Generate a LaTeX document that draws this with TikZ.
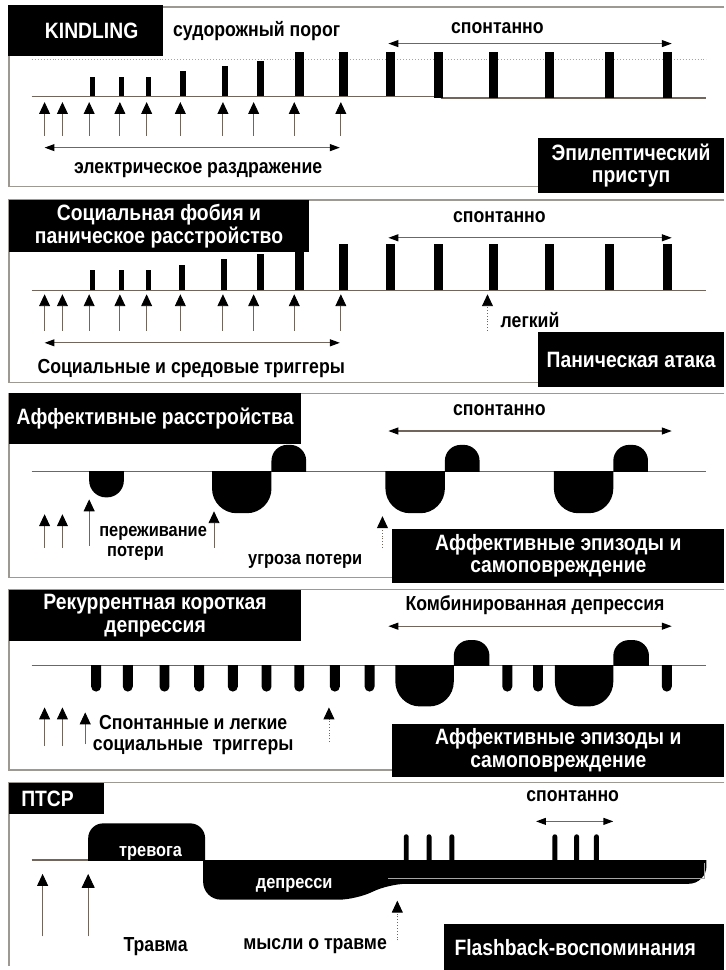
\documentclass[tikz,border=0pt]{standalone}
\usepackage{fontspec}
\setmainfont{Liberation Sans}[FakeStretch=0.87]
\usetikzlibrary{arrows.meta}

\definecolor{framegray}{RGB}{158,152,146}
\definecolor{linegray}{RGB}{112,102,92}

\begin{document}
\begin{tikzpicture}[x=1pt, y=-1pt,
  lbl/.style={inner sep=0pt, yshift=-4pt, font=\bfseries\fontsize{20.5}{21}\selectfont},
  small/.style={inner sep=0pt, yshift=-4pt, font=\bfseries\fontsize{19}{20}\selectfont},
  whitelbl/.style={small, text=white},
  blackbox/.style={fill=black, text=white, inner sep=0pt, align=center,
    font=\bfseries\fontsize{22.4}{23}\selectfont},
  frame/.style={framegray, line width=1.5pt},
  base/.style={linegray, line width=1.2pt},
  threshold/.style={linegray!60, line width=1pt, dotted},
  trigger/.style={linegray, line width=0.9pt, -{Triangle[width=11pt,length=12pt,color=black]}},
  weak/.style={trigger, dotted},
  span/.style={linegray, line width=1.2pt,
    {Triangle[width=7pt,length=10pt,color=black]}-{Triangle[width=7pt,length=10pt,color=black]}}]

  \fill[white] (0,0) rectangle (731,970);

  % Panel 1: kindling
  \draw[frame] (731,7) -- (9,7) -- (9,188) -- (731,188);
  \draw[threshold] (32,60) -- (713,60);
  \draw[base] (32,97) -- (446,97) -- (446,99) -- (713,99);
  \foreach \x/\t/\w in {93/78/5, 123/78/5, 150/78/5, 185/72/6, 227/67/6, 263/62/7, 302/52/9, 347/52/9, 394/52/9}
    \fill ({\x-\w/2},\t) rectangle ({\x+\w/2},97);
  \foreach \x in {443,498,555,615,674}
    \fill ({\x-4.5},52) rectangle ({\x+4.5},99);
  \foreach \x in {45,63,90,121,148,182,225,256,297,344}
    \draw[trigger] (\x,137) -- (\x,103);
  \draw[span] (45,149) -- (343,149);
  \node[lbl] (elstim) at (200,168) {электрическое раздражение};
  \node[lbl] (thresh) at (259,27) {судорожный порог};
  \node[lbl] (spont1) at (502,24) {спонтанно};
  \draw[span] (392,44) -- (678,44);
  \node[blackbox, minimum width=157pt, minimum height=52pt] (kindling) at (86.5,31) {\hspace*{12pt}KINDLING};
  \node[blackbox, minimum width=188pt, minimum height=56pt] (seizure) at (637,167) {Эпилептический\\приступ};

  % Panel 2: panic
  \draw[frame] (731,202) -- (9,202) -- (9,386) -- (731,386);
  \draw[base] (32,293) -- (713,293);
  \foreach \x/\t/\w in {93/272/5, 123/272/5, 150/272/5, 184/267/6, 226/261/6, 263/256/7, 302/246/9, 347/246/9, 394/246/9, 443/246/9, 498/246/9, 555/246/9, 615/246/9, 674/246/9}
    \fill ({\x-\w/2},\t) rectangle ({\x+\w/2},293);
  \foreach \x in {45,63,90,121,148,182,225,256,297,344}
    \draw[trigger] (\x,334) -- (\x,297);
  \draw[weak] (492,334) -- (492,297);
  \node[lbl] (mild) at (535,319) {легкий};
  \draw[span] (45,346) -- (343,346);
  \node[lbl] (socenv) at (193,368) {Социальные и средовые триггеры};
  \node[lbl] (spont2) at (504,215) {спонтанно};
  \draw[span] (392,240) -- (678,240);
  \node[blackbox, minimum width=303pt, minimum height=52pt] (phobia) at (160.5,228) {Социальная фобия и\\паническое расстройство};
  \node[blackbox, minimum width=188pt, minimum height=56pt] (attack) at (637,363) {Паническая атака};

  % Panel 3: affective
  \draw[frame] (731,397) -- (9,397) -- (9,583) -- (731,583);
  \draw[base] (32,476) -- (713,476);
  \begin{scope}
    \clip (0,476) rectangle (731,570);
    \fill[rounded corners=17] (90,450) rectangle (125,502);
    \foreach \x in {214,389,559}
      \fill[rounded corners=25] (\x,440) rectangle ({\x+60},518);
  \end{scope}
  \begin{scope}
    \clip (0,420) rectangle (731,476);
    \foreach \x in {274,449,619}
      \fill[rounded corners=16] (\x,449) rectangle ({\x+35},500);
  \end{scope}
  \draw[trigger] (45,553) -- (45,519);
  \draw[trigger] (63,553) -- (63,519);
  \draw[trigger] (90,551) -- (90,504);
  \draw[trigger] (216,553) -- (216,516);
  \draw[weak] (386,553) -- (386,521);
  \node[small, anchor=west, align=left] (loss) at (100,544) {переживание\\\hspace*{8pt}потери};
  \node[small] (threat) at (308,563) {угроза потери};
  \node[lbl] (spont3) at (504,410) {спонтанно};
  \draw[span] (392,435) -- (678,435);
  \node[blackbox, minimum width=295pt, minimum height=51pt] (affdis) at (156.5,422.5) {Аффективные расстройства};
  \node[blackbox, minimum width=335pt, minimum height=54pt] (episodes1) at (563.5,561) {Аффективные эпизоды и\\самоповреждение};

  % Panel 4: recurrent brief depression
  \draw[frame] (731,595) -- (9,595) -- (9,777) -- (731,777);
  \draw[base] (32,672) -- (713,672);
  \begin{scope}
    \clip (0,672) rectangle (731,740);
    \foreach \x in {97,129,166,201,235,269,302,338,373,512,543,673}
      \fill[rounded corners=5] ({\x-5},655) rectangle ({\x+5},698);
    \foreach \x in {399,560}
      \fill[rounded corners=25] (\x,640) rectangle ({\x+59},713);
  \end{scope}
  \begin{scope}
    \clip (0,620) rectangle (731,672);
    \foreach \x in {458,619}
      \fill[rounded corners=16] (\x,646) rectangle ({\x+36},700);
  \end{scope}
  \draw[trigger] (45,753) -- (45,714);
  \draw[trigger] (63,753) -- (63,714);
  \draw[trigger] (86,751) -- (86,719);
  \draw[weak] (332,749) -- (332,714);
  \node[lbl, align=center] (spontmild) at (195,738) {Спонтанные и легкие\\социальные\ \ триггеры};
  \node[lbl] (combined) at (540,607) {Комбинированная депрессия};
  \draw[span] (392,632) -- (678,632);
  \node[blackbox, minimum width=295pt, minimum height=52pt] (recur) at (156.5,621) {Рекуррентная короткая\\депрессия};
  \node[blackbox, minimum width=335pt, minimum height=53pt] (episodes2) at (563.5,757.5) {Аффективные эпизоды и\\самоповреждение};

  % Panel 5: PTSD
  \draw[frame] (731,790) -- (9,790) -- (9,975);
  \draw[base] (32,868) -- (92,868);
  \begin{scope}
    \clip (0,800) rectangle (731,868);
    \fill[rounded corners=15] (89,831) rectangle (207,890);
    \foreach \x in {410,433,456,560,582,602}
      \fill[rounded corners=2.5] ({\x-2.5},842) rectangle ({\x+2.5},875);
  \end{scope}
  \begin{scope}
    \clip (0,868) rectangle (731,930);
    \fill[rounded corners=18] (205,848) -- (205,908) -- (360,908) -- (392,892) -- (713,892) -- (713,848) -- cycle;
  \end{scope}
  \draw[gray!70, line width=0.6pt] (392,886) -- (711,886) -- (711,871);
  \node[whitelbl] (anxiety) at (152,857) {тревога};
  \node[whitelbl] (depr) at (297,890) {депресси};
  \draw[trigger] (43,945) -- (43,882);
  \draw[trigger, -{Triangle[width=13pt,length=14pt,color=black]}] (89,945) -- (89,882);
  \draw[weak] (401,949) -- (401,909);
  \node[lbl] (trauma) at (157,951) {Травма};
  \node[lbl] (thoughts) at (318,951) {мысли о травме};
  \node[lbl] (spont5) at (578,800) {спонтанно};
  \draw[span] (541,829) -- (619,829);
  \node[blackbox, minimum width=96pt, minimum height=32pt] (ptsd) at (57,806) {\hspace*{-18pt}ПТСР};
  \node[blackbox, minimum width=283pt, minimum height=46pt] (flash) at (589.5,956) {Flashback-воспоминания\hspace*{18pt}};
\end{tikzpicture}
\end{document}
